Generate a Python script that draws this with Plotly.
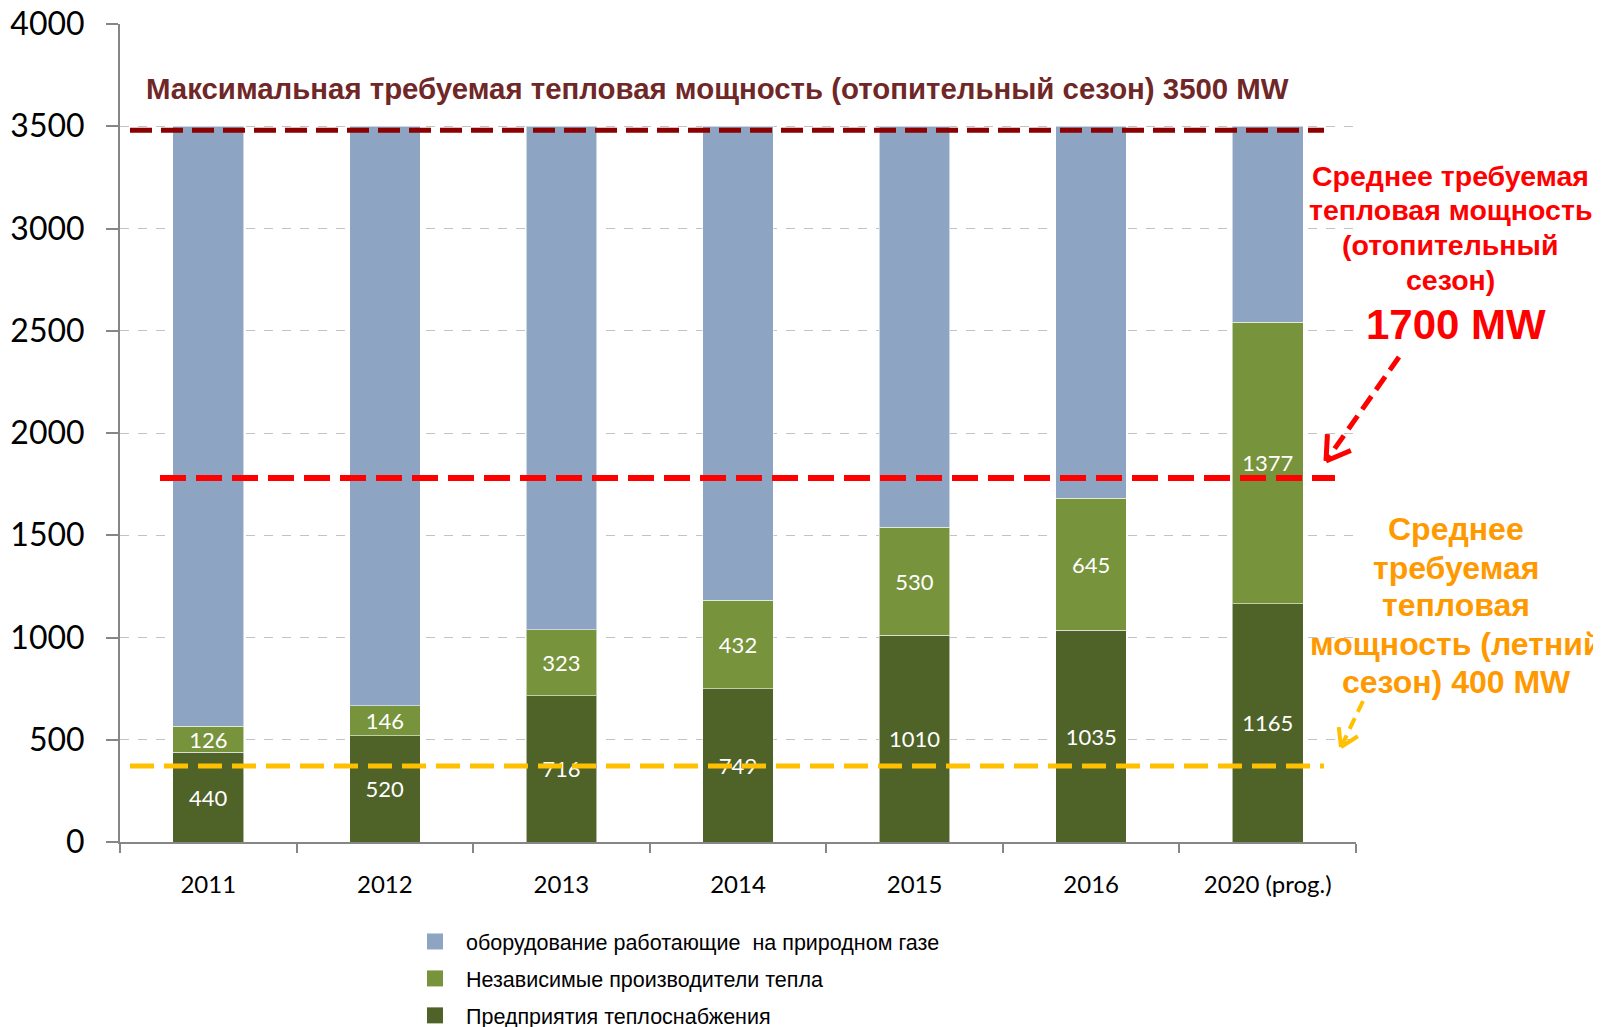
import math
import plotly.graph_objects as go

# ---------------- data ----------------
years = ["2011", "2012", "2013", "2014", "2015", "2016", "2020 (prog.)"]
heat_supply = [440, 520, 716, 749, 1010, 1035, 1165]          # Предприятия теплоснабжения
independent = [126, 146, 323, 432, 530, 645, 1377]            # Независимые производители тепла
gas_equipment = [2934, 2834, 2461, 2319, 1960, 1820, 958]     # оборудование ... на природном газе

series_names = [
    "Предприятия теплоснабжения",
    "Независимые производители тепла",
    "оборудование работающие  на природном газе",
]
series_colors = ["#4F6228", "#77933C", "#8DA4C3"]
legend_ranks = [3, 2, 1]

max_heat = 3480      # dark red dashed line (3500 MW label)
avg_winter = 1780    # red dashed line (1700 MW label)
avg_summer = 372     # yellow dashed line (400 MW label)

title_text = "Максимальная требуемая тепловая мощность (отопительный сезон) 3500 MW"
winter_lines = ["Среднее требуемая", "тепловая мощность", "(отопительный", "сезон)"]
winter_value = "1700 MW"
summer_lines = ["Среднее", "требуемая", "тепловая", "мощность (летний", "сезон) 400 MW"]

# ---------------- layout geometry ----------------
W, H = 1601, 1027
OFF = 8                      # page body margin of the html page
SL, SR, ST, SB = 120, 1356, 24, 842   # wanted plot-area edges on screen
L, R, T, B = SL - OFF, SR - OFF, ST - OFF, SB - OFF


def px(x):
    return (x - SL) / (SR - SL)


def py(y):
    return (SB - y) / (SB - ST)


fig = go.Figure()

for vals, name, col, show_text in [
    (heat_supply, series_names[0], series_colors[0], True),
    (independent, series_names[1], series_colors[1], True),
    (gas_equipment, series_names[2], series_colors[2], False),
]:
    fig.add_trace(go.Bar(
        x=years, y=vals, name=name, showlegend=False,
        marker=dict(color=col, line=dict(color="rgba(255,255,255,0.55)", width=1)),
        text=[str(v) for v in vals] if show_text else None,
        textposition="inside" if show_text else "none",
        insidetextanchor="middle",
        textangle=0,
        textfont=dict(family="Lato", size=22, color="white"),
        hoverinfo="x+y+name",
    ))

# legend proxies (square symbols)
for name, col, rank in zip(series_names, series_colors, legend_ranks):
    fig.add_trace(go.Scatter(
        x=[None], y=[None], mode="markers", name=name, legendrank=rank,
        legendgroup=name,
        marker=dict(symbol="square", size=17, color=col),
        hoverinfo="skip",
    ))

shapes = []


def hline(x0p, x1p, yv, color, width, dash):
    shapes.append(dict(type="line", xref="paper", yref="y",
                       x0=px(x0p), x1=px(x1p), y0=yv, y1=yv,
                       line=dict(color=color, width=width, dash=dash), layer="above"))


hline(130, 1324, max_heat, "#8B0000", 5, "22px,9px")
hline(160, 1335, avg_winter, "#FF0000", 6, "26px,10px")
hline(130, 1324, avg_summer, "#FFC000", 5, "24px,10px")


def dashed_arrow(tail, tip, color, width, wing, dash):
    shapes.append(dict(type="line", xref="paper", yref="paper",
                       x0=px(tail[0]), y0=py(tail[1]), x1=px(tip[0]), y1=py(tip[1]),
                       line=dict(color=color, width=width, dash=dash), layer="above"))
    ux, uy = tail[0] - tip[0], tail[1] - tip[1]
    n = math.hypot(ux, uy)
    ux, uy = ux / n, uy / n
    for ang in (math.radians(32), math.radians(-32)):
        wx = ux * math.cos(ang) - uy * math.sin(ang)
        wy = ux * math.sin(ang) + uy * math.cos(ang)
        shapes.append(dict(type="line", xref="paper", yref="paper",
                           x0=px(tip[0]), y0=py(tip[1]),
                           x1=px(tip[0] + wx * wing), y1=py(tip[1] + wy * wing),
                           line=dict(color=color, width=width), layer="above"))


dashed_arrow((1399, 357), (1326, 461), "#FF0000", 5, 27, "16px,8px")
dashed_arrow((1363, 701), (1341, 747), "#FFC000", 4, 20, "12px,7px")

annotations = [
    dict(text="<b>" + title_text + "</b>",
         xref="paper", yref="paper", x=px(717), y=py(89), xanchor="center", yanchor="middle",
         showarrow=False, font=dict(family="Liberation Sans", size=29.4, color="#6F2727")),
    dict(text="<b>" + winter_value + "</b>",
         xref="paper", yref="paper", x=px(1456), y=py(325), xanchor="center", yanchor="middle",
         showarrow=False, font=dict(family="Liberation Sans", size=42, color="#FF0000")),
]
for line, yy in zip(winter_lines, [176, 210, 245, 280]):
    annotations.append(dict(text="<b>" + line + "</b>",
                            xref="paper", yref="paper", x=px(1450), y=py(yy),
                            xanchor="center", yanchor="middle", showarrow=False,
                            font=dict(family="Liberation Sans", size=28.5, color="#FF0000")))
for line, yy in zip(summer_lines, [529, 568, 605, 644, 682]):
    annotations.append(dict(text="<b>" + line + "</b>",
                            xref="paper", yref="paper", x=px(1456), y=py(yy),
                            xanchor="center", yanchor="middle", showarrow=False,
                            font=dict(family="Liberation Sans", size=32, color="#FF9900")))

fig.update_layout(
    width=W, height=H, autosize=False,
    margin=dict(l=L, r=W - R, t=T, b=H - B, pad=0, autoexpand=False),
    paper_bgcolor="white", plot_bgcolor="white",
    barmode="stack", bargap=0.6,
    showlegend=True,
    legend=dict(orientation="v", x=px(404), y=py(921), xanchor="left", yanchor="top",
                traceorder="grouped", tracegroupgap=6, itemwidth=52,
                font=dict(family="Liberation Sans", size=21.5, color="black"),
                bgcolor="rgba(0,0,0,0)"),
    uniformtext=dict(minsize=22, mode="show"),
    shapes=shapes,
    annotations=annotations,
    font=dict(family="Lato"),
)

fig.update_xaxes(
    type="category", showline=True, linecolor="#868686", linewidth=2,
    ticks="outside", tickson="boundaries", ticklen=9, tickcolor="#868686", tickwidth=2,
    tickfont=dict(family="Lato", size=24, color="black"), ticklabelstandoff=20,
    showgrid=False, zeroline=False, automargin=False,
)
fig.update_yaxes(
    range=[0, 4000], dtick=500, tick0=0,
    showline=True, linecolor="#868686", linewidth=2,
    ticks="outside", ticklen=12, tickcolor="#868686", tickwidth=2,
    tickfont=dict(family="Lato", size=32, color="black"), ticklabelstandoff=15,
    ticklabeloverflow="allow",
    showgrid=True, gridcolor="#C3C3C3", griddash="dash", gridwidth=1,
    zeroline=False, automargin=False,
)

fig.write_html("out.html")
